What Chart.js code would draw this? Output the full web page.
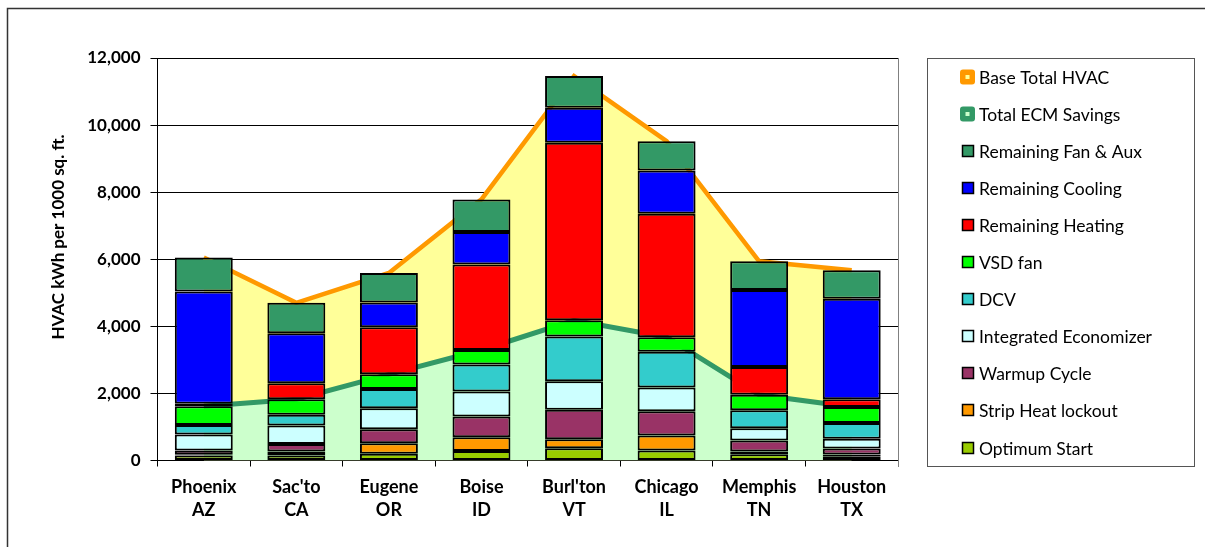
<!DOCTYPE html>
<html>
<head>
<meta charset="utf-8">
<script src="https://cdn.jsdelivr.net/npm/chart.js@4.4.1/dist/chart.umd.min.js"></script>
<style>
  html, body { margin: 0; padding: 0; background: #fff; }
  #wrap { width: 1205px; height: 547px; }
</style>
</head>
<body>
<div id="wrap"><canvas id="chart" width="1205" height="547"></canvas></div>
<script>
const categories = [['Phoenix', 'AZ'], ["Sac'to", 'CA'], ['Eugene', 'OR'], ['Boise', 'ID'],
  ["Burl'ton", 'VT'], ['Chicago', 'IL'], ['Memphis', 'TN'], ['Houston', 'TX']];
const yTicks = [0, 2000, 4000, 6000, 8000, 10000, 12000];
const yTitle = 'HVAC kWh per 1000 sq. ft.';

// savings measures (bottom of each stack)
const optimumStart   = [150, 150, 200, 280, 365, 300, 190, 110];
const stripHeat      = [25, 120, 315, 415, 270, 445, 80, 70];
const warmupCycle    = [120, 220, 420, 615, 875, 725, 330, 180];
const economizer     = [480, 555, 620, 750, 855, 705, 365, 290];
const dcv            = [280, 320, 575, 805, 1335, 1065, 535, 465];
const vsdFan         = [560, 460, 440, 430, 480, 435, 460, 480];
// remaining use
const remHeating     = [80, 475, 1400, 2550, 5290, 3685, 825, 230];
const remCooling     = [3340, 1495, 740, 970, 1045, 1285, 2300, 2995];
const remFanAux      = [1020, 905, 880, 970, 945, 875, 855, 850];
// lines
const totalSavings   = [1615, 1825, 2570, 3295, 4180, 3675, 1960, 1595];
const baseTotal      = [6055, 4700, 5590, 7785, 11460, 9520, 5940, 5670];

const font = 'Lato';

const bar = (label, data, color) => ({
  type: 'bar', label, data, backgroundColor: color, borderColor: '#000',
  borderWidth: 2, borderSkipped: false, stack: 'bars', order: 0,
  barPercentage: 1, categoryPercentage: 0.626
});

const frame = {
  id: 'frame',
  afterDraw(chart) {
    const ctx = chart.ctx, a = chart.chartArea;
    ctx.save();
    // outer border
    ctx.strokeStyle = '#333';
    ctx.lineWidth = 1.5;
    ctx.beginPath();
    ctx.moveTo(7.5, 547); ctx.lineTo(7.5, 8.5); ctx.lineTo(1205, 8.5);
    ctx.stroke();
    // right edge of plot
    ctx.strokeStyle = '#808080';
    ctx.lineWidth = 1;
    ctx.beginPath();
    ctx.moveTo(Math.round(a.right) + 0.5, a.top);
    ctx.lineTo(Math.round(a.right) + 0.5, a.bottom + 6);
    ctx.stroke();
    // y title
    ctx.save();
    ctx.translate(59, 237);
    ctx.rotate(-Math.PI / 2);
    ctx.font = `bold 17px ${font}`;
    ctx.fillStyle = '#000';
    ctx.textAlign = 'center';
    ctx.textBaseline = 'middle';
    ctx.fillText(yTitle, 0, 0);
    ctx.restore();
    // legend box
    ctx.strokeStyle = '#555';
    ctx.strokeRect(927.5, 58.5, 267, 408);
    const sets = chart.data.datasets.slice().reverse();
    ctx.font = `17.5px ${font}`;
    ctx.textAlign = 'left';
    ctx.textBaseline = 'middle';
    sets.forEach((ds, i) => {
      const y = Math.round(76.5 + i * 37.1);
      if (ds.type === 'line') {
        ctx.fillStyle = ds.borderColor;
        ctx.beginPath();
        ctx.roundRect(960, y - 7.5, 15, 15, 3);
        ctx.fill();
        ctx.fillStyle = ds.backgroundColor;
        ctx.fillRect(965.5, y - 2, 4, 4);
      } else {
        ctx.fillStyle = ds.backgroundColor;
        ctx.fillRect(962.5, y - 5.5, 11, 11);
        ctx.strokeStyle = '#000';
        ctx.lineWidth = 1.5;
        ctx.strokeRect(962.5, y - 5.5, 11, 11);
      }
      ctx.fillStyle = '#000';
      ctx.fillText(ds.label, 979, y + 1);
    });
    ctx.restore();
  }
};

new Chart(document.getElementById('chart'), {
  data: {
    labels: categories,
    datasets: [
      bar('Optimum Start', optimumStart, '#99CC00'),
      bar('Strip Heat lockout', stripHeat, '#FF9900'),
      bar('Warmup Cycle', warmupCycle, '#993366'),
      bar('Integrated Economizer', economizer, '#CCFFFF'),
      bar('DCV', dcv, '#33CCCC'),
      bar('VSD fan', vsdFan, '#00FF00'),
      bar('Remaining Heating', remHeating, '#FF0000'),
      bar('Remaining Cooling', remCooling, '#0000FF'),
      bar('Remaining Fan & Aux', remFanAux, '#339966'),
      {
        type: 'line', label: 'Total ECM Savings', data: totalSavings,
        borderColor: '#339966', backgroundColor: '#CCFFCC', borderWidth: 5,
        fill: 'origin', pointRadius: 0, tension: 0, stack: 'save', order: 1
      },
      {
        type: 'line', label: 'Base Total HVAC', data: baseTotal,
        borderColor: '#FF9900', backgroundColor: '#FFFF99', borderWidth: 4.5,
        fill: 'origin', pointRadius: 0, tension: 0, stack: 'base', order: 2
      }
    ]
  },
  options: {
    responsive: false,
    animation: false,
    devicePixelRatio: 1,
    layout: { padding: { left: 40, top: 58, right: 307, bottom: 0 } },
    plugins: { legend: { display: false }, tooltip: { enabled: false } },
    scales: {
      x: {
        stacked: true,
        offset: true,
        afterFit: s => { s.height = 86.5; },
        grid: { display: true, drawOnChartArea: false, offset: true, tickLength: 6, color: '#000' },
        border: { color: '#000', width: 1 },
        ticks: {
          maxRotation: 0, autoSkip: false, padding: 9, color: '#000',
          font: { family: font, weight: 'bold', size: 18, lineHeight: 1.28 }
        }
      },
      y: {
        stacked: true,
        min: 0, max: 12000,
        afterFit: s => { s.width = 117.5; },
        afterBuildTicks: s => { s.ticks = yTicks.map(v => ({ value: v })); },
        grid: { color: '#000', lineWidth: 1, tickLength: 7 },
        border: { color: '#000', width: 1 },
        ticks: {
          padding: 10, color: '#000',
          font: { family: font, weight: 'bold', size: 17 },
          callback: v => v.toLocaleString('en-US')
        }
      }
    }
  },
  plugins: [frame]
});
</script>
</body>
</html>
